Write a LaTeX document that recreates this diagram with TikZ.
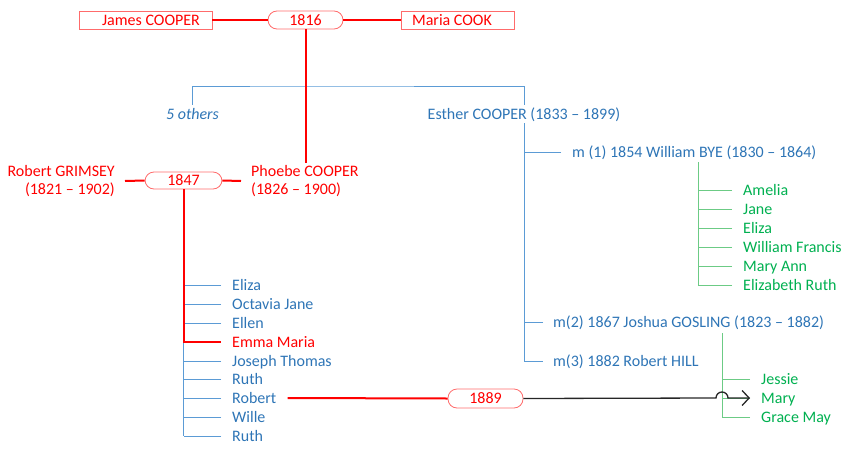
\documentclass[tikz,border=0pt]{standalone}
\usepackage{fontspec}
\setmainfont{Carlito}
\usetikzlibrary{arrows.meta,calc}
\definecolor{cred}{HTML}{FF0000}
\definecolor{cbox}{HTML}{FF6B6B}
\definecolor{cblue}{HTML}{2E75B6}
\definecolor{cbline}{HTML}{5B9BD5}
\definecolor{cgreen}{HTML}{00B050}
\definecolor{cgline}{HTML}{6CCB85}
\definecolor{carrow}{HTML}{262626}
\begin{document}
\begin{tikzpicture}[x=1pt,y=-1pt,
  every node/.style={font=\fontsize{16}{18}\selectfont},
  txt/.style={inner xsep=0pt, inner ysep=2pt, text height=12pt, text depth=2pt},
  kid/.style={txt, inner xsep=11pt, anchor=west},
  two/.style={inner xsep=10pt, inner ysep=2pt},
  pbox/.style={draw=cbox, line width=0.8pt, text=cred, minimum height=18pt, inner sep=0pt, text height=12pt, text depth=2pt},
  mbox/.style={pbox, rounded corners=9pt, minimum width=75pt},
  rline/.style={draw=cred, line width=2pt},
  bline/.style={draw=cbline, line width=0.8pt},
  gline/.style={draw=cgline, line width=0.8pt},
  aline/.style={draw=carrow, line width=1.3pt, -{Straight Barb[length=7pt,width=15pt]}}
]
\path[use as bounding box] (0,0) rectangle (843,450);

% top couple
\node[pbox, minimum width=133pt] (james) at (145.5,20) {\hspace*{11pt}James COOPER};
\node[mbox] (m1816) at (305.5,20) {1816};
\node[pbox, minimum width=113pt] (maria) at (457.5,20) {Maria COOK\hspace*{11pt}};
\draw[rline] (james) -- (m1816);
\draw[rline] (m1816) -- (maria);

% siblings
\coordinate (bar) at (306,86);
\node[txt, text=cblue, font=\fontsize{16}{18}\selectfont\itshape] (others) at (192.5,114) {5 others};
\node[txt, text=cblue] (esther) at (524,114) {Esther COOPER (1833 – 1899)};
\draw[bline] (others.north) |- (bar) -| (esther.north);

% Phoebe & Robert GRIMSEY
\node[two, text=cred, align=left, anchor=west] (phoebe) at (241,181) {Phoebe COOPER\\(1826 – 1900)};
\node[two, text=cred, align=right, anchor=east] (grimsey) at (125,181) {Robert GRIMSEY\\(1821 – 1902)};
\node[mbox, minimum width=77pt, minimum height=17pt] (m1847) at (183.5,180.5) {1847};
\draw[rline] (m1816.south) -- (m1816.south |- phoebe.north);
\draw[rline] (grimsey.east) -- (m1847.west);
\draw[rline] (m1847.east) -- (phoebe.west);

% children of 1847
\node[kid, text=cblue] (k1) at (221,285) {Eliza};
\node[kid, text=cblue] (k2) at (221,304) {Octavia Jane};
\node[kid, text=cblue] (k3) at (221,323) {Ellen};
\node[kid, text=cred]  (k4) at (221,342) {Emma Maria};
\node[kid, text=cblue] (k5) at (221,361) {Joseph Thomas};
\node[kid, text=cblue] (k6) at (221,379) {Ruth};
\node[kid, text=cblue] (k7) at (221,398) {Robert};
\node[kid, text=cblue] (k8) at (221,417) {Wille};
\node[kid, text=cblue] (k9) at (221,436) {Ruth};
\draw[bline] (k1.west -| m1847.south) -- (k9.west -| m1847.south);
\foreach \k in {k1,k2,k3,k5,k6,k7,k8,k9}{
  \draw[bline] (\k.west) -- (\k.west -| m1847.south);
}
\draw[rline] (m1847.south) |- (k4.west);

% marriage 1889
\node[mbox, minimum height=19pt] (m1889) at (485.5,398.5) {1889};
\draw[rline] (k7.east) -- (m1889.west);

% Esther's marriages
\node[kid, text=cblue] (mar1) at (561,152) {m (1) 1854 William BYE (1830 – 1864)};
\node[kid, text=cblue, inner xsep=10pt] (mar2) at (543,322) {m(2) 1867 Joshua GOSLING (1823 – 1882)};
\node[kid, text=cblue, inner xsep=10pt] (mar3) at (543,361) {m(3) 1882 Robert HILL};
\draw[bline] (esther.south) -- (esther.south |- mar3.west) -- (mar3.west);
\draw[bline] (mar1.west) -- (mar1.west -| esther.south);
\draw[bline] (mar2.west) -- (mar2.west -| esther.south);

% children of marriage 1
\coordinate (g1) at (698,162);
\node[kid, text=cgreen] (a1) at (732,190) {Amelia};
\node[kid, text=cgreen] (a2) at (732,209) {Jane};
\node[kid, text=cgreen] (a3) at (732,228) {Eliza};
\node[kid, text=cgreen] (a4) at (732,247) {William Francis};
\node[kid, text=cgreen] (a5) at (732,266) {Mary Ann};
\node[kid, text=cgreen] (a6) at (732,285) {Elizabeth Ruth};
\draw[gline] (g1) -- (g1 |- a6.west);
\foreach \k in {a1,a2,a3,a4,a5,a6}{
  \draw[gline] (\k.west) -- (\k.west -| g1);
}

% children of marriage 2
\coordinate (g2) at (722,333);
\node[kid, text=cgreen] (b1) at (750,379) {Jessie};
\node[kid, text=cgreen] (b2) at (750,398) {Mary};
\node[kid, text=cgreen] (b3) at (750,417) {Grace May};
\draw[gline] (g2) -- (g2 |- b3.west);
\foreach \k in {b1,b2,b3}{
  \draw[gline] (\k.west) -- (\k.west -| g2);
}

% arrow from 1889 to Mary
\draw[aline] (m1889.east) -- ($(g2 |- b2.west)+(-6,0)$) arc[start angle=180, end angle=360, radius=6] -- (b2.west);
\end{tikzpicture}
\end{document}
